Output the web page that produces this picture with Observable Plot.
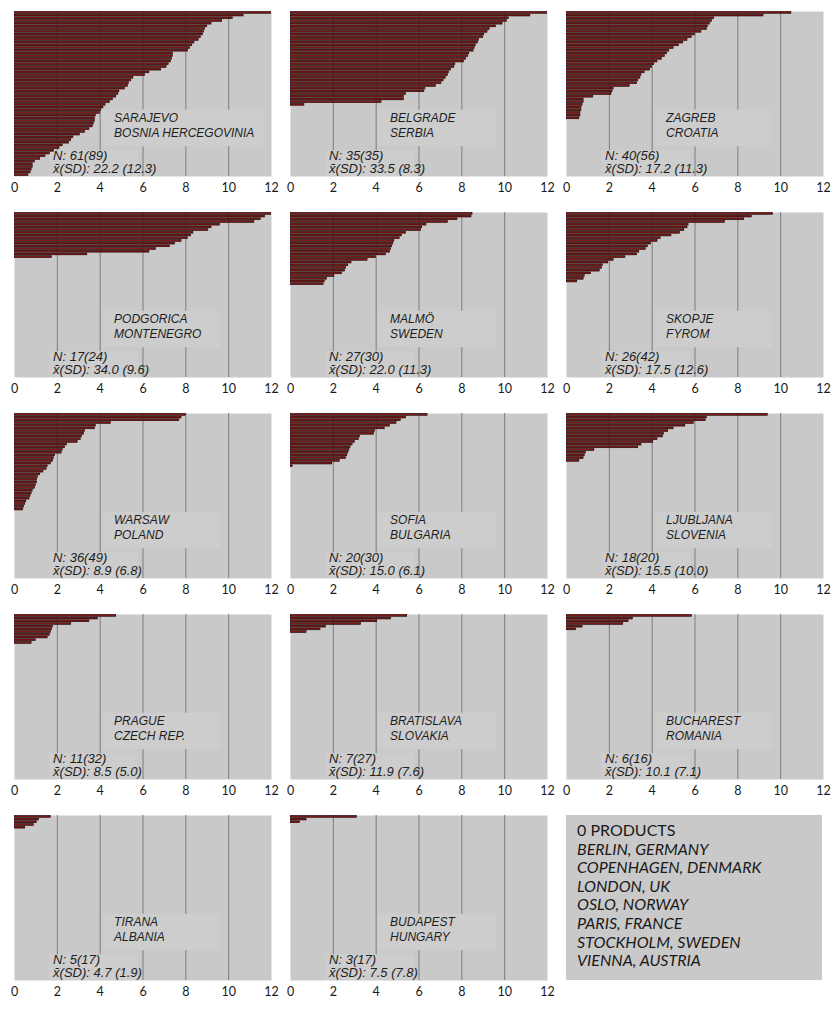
<!DOCTYPE html>
<html>
<head>
<meta charset="utf-8">
<script src="https://cdn.jsdelivr.net/npm/d3@7"></script>
<script src="https://cdn.jsdelivr.net/npm/@observablehq/plot@0.6"></script>
<style>
  body { margin: 0; background: #ffffff; }
  #grid { position: relative; width: 834px; height: 1009px; }
  .cell { position: absolute; }
  #legend {
    position: absolute; left: 566px; top: 815px; width: 256px; height: 165px;
    background: #c9c9c9; box-sizing: border-box; padding: 6px 0 0 11px;
    font-family: Lato, sans-serif; font-size: 16px; line-height: 18.6px; color: #1a1a1a;
  }
  #legend .city { font-style: italic; }
</style>
</head>
<body>
<div id="grid"></div>
<script>
// Cities with at least one product, in panel order
const cities    = ["SARAJEVO", "BELGRADE", "ZAGREB", "PODGORICA", "MALMÖ", "SKOPJE", "WARSAW", "SOFIA", "LJUBLJANA", "PRAGUE", "BRATISLAVA", "BUCHAREST", "TIRANA", "BUDAPEST"];
const countries = ["BOSNIA HERCEGOVINIA", "SERBIA", "CROATIA", "MONTENEGRO", "SWEDEN", "FYROM", "POLAND", "BULGARIA", "SLOVENIA", "CZECH REP.", "SLOVAKIA", "ROMANIA", "ALBANIA", "HUNGARY"];
const nFound    = [61, 35, 40, 17, 27, 26, 36, 20, 18, 11, 7, 6, 5, 3];
const nTotal    = [89, 35, 56, 24, 30, 42, 49, 30, 20, 32, 27, 16, 17, 17];
const means     = [22.2, 33.5, 17.2, 34.0, 22.0, 17.5, 8.9, 15.0, 15.5, 8.5, 11.9, 10.1, 4.7, 7.5];
const sds       = [12.3, 8.3, 11.3, 9.6, 11.3, 12.6, 6.8, 6.1, 10.0, 5.0, 7.6, 7.1, 1.9, 7.8];

// Per-city product values, sorted from largest to smallest
const sarajevo = [12.6, 10.7, 10.2, 9.7, 9.2, 9.0, 8.9, 8.85, 8.8, 8.7, 8.6, 8.4, 8.3, 8.2, 8.1, 7.4, 7.4, 7.35, 7.3, 7.2, 7.1, 6.85, 6.3, 6.1, 5.55, 5.45, 5.35, 5.3, 5.15, 4.9, 4.85, 4.75, 4.6, 4.45, 4.25, 4.15, 4.05, 4.0, 3.8, 3.75, 3.75, 3.7, 3.65, 3.5, 3.3, 3.05, 2.75, 2.65, 2.55, 2.25, 2.1, 1.85, 1.65, 1.45, 1.2, 0.95, 0.85, 0.85, 0.8, 0.75, 0.65];
const belgrade = [13.0, 11.2, 10.2, 10.1, 9.9, 9.6, 9.3, 9.2, 9.05, 9.0, 8.8, 8.75, 8.65, 8.6, 8.55, 8.35, 8.3, 8.2, 8.1, 7.7, 7.65, 7.5, 7.4, 7.35, 7.25, 7.15, 7.05, 6.8, 6.3, 6.25, 5.4, 5.3, 5.3, 4.25, 0.65];
const zagreb = [10.5, 9.2, 6.9, 6.8, 6.7, 6.6, 6.55, 6.3, 6.0, 5.85, 5.65, 5.45, 5.25, 5.0, 4.8, 4.7, 4.6, 4.45, 4.25, 4.1, 4.0, 3.9, 3.65, 3.5, 3.45, 3.35, 3.3, 2.95, 2.2, 2.15, 2.1, 1.25, 0.8, 0.8, 0.75, 0.7, 0.7, 0.65, 0.65, 0.6];
const podgorica = [12.0, 11.7, 11.5, 11.2, 9.6, 9.2, 9.05, 8.35, 8.25, 8.1, 7.8, 7.5, 7.25, 6.6, 6.3, 3.4, 1.75];
const malmo = [8.5, 8.45, 7.8, 7.35, 6.35, 6.15, 6.1, 5.4, 5.2, 5.1, 4.85, 4.8, 4.75, 4.7, 4.65, 4.45, 4.0, 3.6, 2.85, 2.7, 2.6, 2.55, 2.4, 2.05, 1.7, 1.6, 1.55];
const skopje = [9.65, 8.65, 8.3, 7.4, 5.7, 5.65, 5.5, 5.3, 4.9, 4.4, 4.25, 3.95, 3.8, 3.7, 3.4, 3.3, 2.75, 2.2, 1.95, 1.7, 1.65, 1.55, 1.15, 0.85, 0.8, 0.5];
const warsaw = [8.0, 7.8, 7.7, 4.5, 3.8, 3.75, 3.3, 3.25, 3.15, 3.1, 2.95, 2.45, 2.35, 2.25, 2.2, 1.9, 1.85, 1.8, 1.7, 1.55, 1.5, 1.35, 1.2, 1.1, 1.05, 1.05, 1.0, 0.95, 0.85, 0.8, 0.75, 0.7, 0.55, 0.5, 0.45, 0.4];
const sofia = [6.4, 5.4, 5.15, 4.95, 4.65, 4.4, 3.95, 3.9, 3.25, 3.2, 3.0, 2.9, 2.8, 2.75, 2.7, 2.65, 2.6, 2.3, 1.95, 0.1];
const ljubljana = [9.4, 6.55, 6.5, 5.95, 5.55, 5.0, 4.75, 4.55, 4.5, 4.25, 4.05, 3.5, 3.35, 1.3, 0.9, 0.85, 0.8, 0.6];
const prague = [4.75, 3.9, 3.5, 2.65, 1.8, 1.75, 1.7, 1.65, 1.55, 1.0, 0.8];
const bratislava = [5.45, 4.7, 4.05, 3.3, 1.65, 1.4, 0.75];
const bucharest = [5.85, 3.1, 2.9, 2.65, 0.75, 0.45];
const tirana = [1.7, 1.15, 1.05, 0.9, 0.5];
const budapest = [3.1, 0.75, 0.45];

// Cities where no product was found
const zeroHeading = "0 PRODUCTS";
const zeroCities = ["BERLIN, GERMANY", "COPENHAGEN, DENMARK", "LONDON, UK", "OSLO, NORWAY", "PARIS, FRANCE", "STOCKHOLM, SWEDEN", "VIENNA, AUSTRIA"];

const series = [sarajevo, belgrade, zagreb, podgorica, malmo, skopje, warsaw, sofia, ljubljana, prague, bratislava, bucharest, tirana, budapest];

// Every panel shares one row slot per product of the largest city
const slots = d3.max(series, s => s.length);

const W = 276, H = 201, ML = 14, MR = 5, MT = 11, MB = 25;
const pxPerUnit = (W - ML - MR) / 12;
const labelFont = "'Liberation Sans', Arial, sans-serif";

const canvas = document.createElement("canvas").getContext("2d");
canvas.font = "italic 12px 'Liberation Sans'";

function panel(i) {
  const rows = series[i].map((v, k) => ({rank: k, v}));
  const name = `${cities[i]}\n${countries[i]}`;
  const stats = `N: ${nFound[i]}(${nTotal[i]})\nx\u0304(SD): ${means[i].toFixed(1)} (${sds[i].toFixed(1)})`;
  const nameX = 4.65;
  const nameW = d3.max([cities[i], countries[i]], s => canvas.measureText(s).width) / pxPerUnit;
  const boxEnd = Math.max(9.6, nameX + nameW + 0.45);
  const common = {textAnchor: "start", lineAnchor: "middle", fontStyle: "italic",
    fontFamily: labelFont, fill: "#1e1e1e"};

  const svg = Plot.plot({
    width: W, height: H,
    marginLeft: ML, marginRight: MR, marginTop: MT, marginBottom: MB,
    style: {fontFamily: "Lato, sans-serif", fontSize: "12.5px", color: "#1a1a1a", background: "transparent", overflow: "visible"},
    x: {domain: [0, 12], ticks: 6, tickSize: 0, tickPadding: 7, label: null},
    y: {domain: [0, slots], reverse: true, axis: null},
    marks: [
      Plot.frame({fill: "#c9c9c9", stroke: "none"}),
      Plot.ruleX([2, 4, 6, 8, 10], {stroke: "#7c7c7c", strokeWidth: 1}),
      Plot.rect([0], {x1: 4.1, x2: boxEnd, y1: 36.5, y2: 50, fill: "#cdcdcd"}),
      Plot.rect([0], {x1: 1.65, x2: 5.8, y1: 51.5, y2: slots, fill: "#cdcdcd"}),
      Plot.rect(rows, {x1: 0, x2: "v", y1: d => d.rank + 0.16, y2: d => d.rank + 0.84,
        fill: "#7d1818", stroke: "#1c0505", strokeWidth: 0.6, clip: true}),
      Plot.text([name], {x: nameX, y: 41.8, text: d => d, fontSize: 12, lineHeight: 1.25, ...common}),
      Plot.text([stats], {x: 1.8, y: 55.8, text: d => d, fontSize: 13, lineHeight: 1.0, ...common})
    ]
  });
  d3.select(svg).selectAll("g[aria-label='text'] text").style("font-style", "italic");
  return svg;
}

const grid = document.getElementById("grid");
series.forEach((_, i) => {
  const cell = document.createElement("div");
  cell.className = "cell";
  cell.style.left = `${(i % 3) * W}px`;
  cell.style.top = `${Math.floor(i / 3) * H}px`;
  cell.appendChild(panel(i));
  grid.appendChild(cell);
});

const legend = document.createElement("div");
legend.id = "legend";
const head = document.createElement("div");
head.textContent = zeroHeading;
legend.appendChild(head);
zeroCities.forEach(c => {
  const line = document.createElement("div");
  line.className = "city";
  line.textContent = c;
  legend.appendChild(line);
});
grid.appendChild(legend);
</script>
</body>
</html>
